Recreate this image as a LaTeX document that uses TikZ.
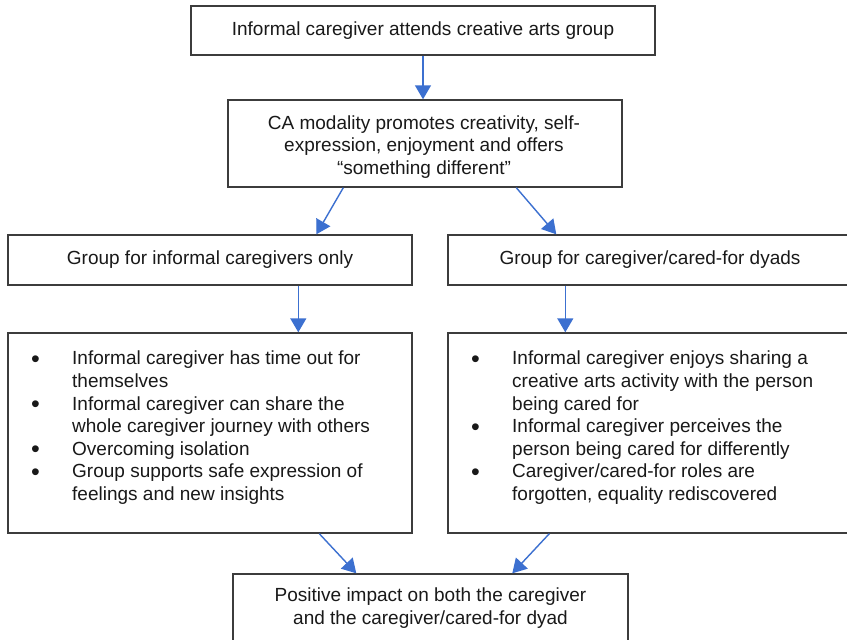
\documentclass[tikz,border=0pt]{standalone}
\usepackage{fontspec}
\setmainfont{Liberation Sans}
\usetikzlibrary{arrows.meta,calc}
\definecolor{arrblue}{RGB}{60,112,208}
\definecolor{boxgray}{RGB}{60,60,60}
\newcommand\bul{\llap{\makebox[41pt][l]{\smash{\raisebox{-2.5pt}{\fontsize{25}{22.6}\selectfont\textbullet}}}}}
\begin{document}
\begin{tikzpicture}[x=1pt,y=-1pt,
  box/.style={draw=boxgray,line width=1.4pt,fill=white,rectangle,inner sep=0pt,align=center,
    font=\fontsize{19}{22.4}\selectfont,text=black!90},
  plain/.style={inner sep=0pt,align=center,font=\fontsize{19}{22.4}\selectfont,text=black!90},
  listtext/.style={inner sep=0pt,align=left,anchor=north west,
    font=\fontsize{19}{22.6}\selectfont,text=black!90},
  arr/.style={draw=arrblue,line width=1.4pt,-{Triangle[length=14pt,width=16pt]}}]
\useasboundingbox (0,0) rectangle (847,640);
\clip (0,0) rectangle (847,640);
\fill[white] (0,0) rectangle (847,640);
\node[box,minimum width=464pt,minimum height=49pt] (top) at (423,30.5) {Informal caregiver attends creative arts group};
\node[box,minimum width=394pt,minimum height=87pt] (mod) at (425,143.5) {};
\node[plain] (modt) at (424,147) {CA modality promotes creativity, self-\\expression, enjoyment and offers\\``something different''};
\node[box,minimum width=404pt,minimum height=50pt] (gl) at (210,260) {Group for informal caregivers only};
\node[box,minimum width=404pt,minimum height=50pt] (gr) at (650,260) {Group for caregiver/cared-for dyads};
\node[box,minimum width=404pt,minimum height=200pt] (ll) at (210,433) {};
\node[box,minimum width=404pt,minimum height=200pt] (rl) at (650,433) {};
\node[listtext] (llt) at (72,351) {\bul Informal caregiver has time out for\\
themselves\\
\bul Informal caregiver can share the\\
whole caregiver journey with others\\
\bul Overcoming isolation\\
\bul Group supports safe expression of\\
feelings and new insights};
\node[listtext] (rlt) at (512,351) {\bul Informal caregiver enjoys sharing a\\
creative arts activity with the person\\
being cared for\\
\bul Informal caregiver perceives the\\
person being cared for differently\\
\bul Caregiver/cared-for roles are\\
forgotten, equality rediscovered};
\node[box,minimum width=395pt,minimum height=68pt] (pos) at (430.5,608) {Positive impact on both the caregiver\\and the caregiver/cared-for dyad};
\draw[arr] (top.south) -- (top.south |- mod.north);
\draw[arr] ([xshift=116pt]mod.south west) -- ([xshift=309pt]gl.north west);
\draw[arr] ([xshift=289pt]mod.south west) -- ([xshift=109pt]gr.north west);
\draw[arr] ([xshift=291pt]gl.south west) -- ([xshift=291pt]ll.north west);
\draw[arr] ([xshift=118pt]gr.south west) -- ([xshift=118pt]rl.north west);
\draw[arr] ([xshift=312pt]ll.south west) -- ([xshift=124pt]pos.north west);
\draw[arr] ([xshift=102pt]rl.south west) -- ([xshift=280pt]pos.north west);
\end{tikzpicture}
\end{document}
